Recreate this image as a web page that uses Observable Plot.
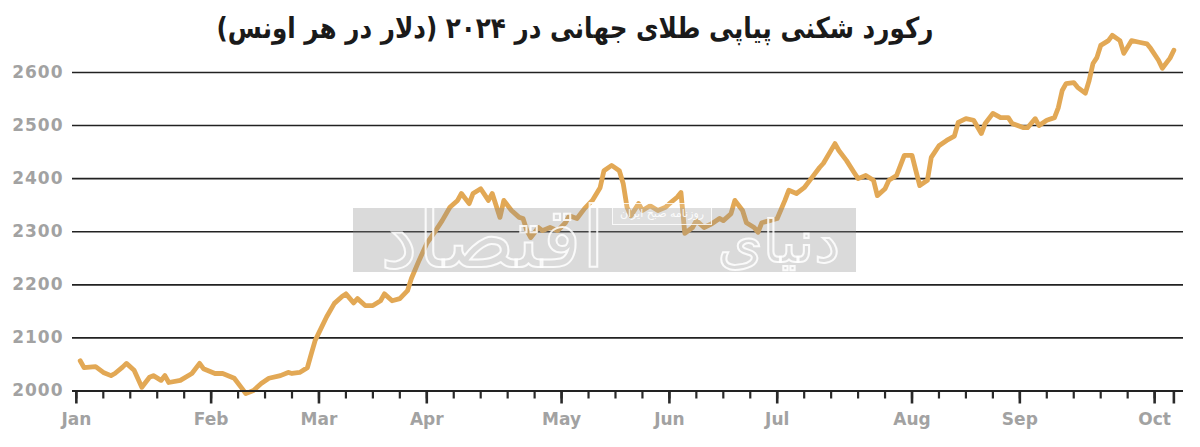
<!DOCTYPE html>
<html>
<head>
<meta charset="utf-8">
<script src="https://cdn.jsdelivr.net/npm/d3@7"></script>
<script src="https://cdn.jsdelivr.net/npm/@observablehq/plot@0.6"></script>
<style>
  html, body { margin: 0; padding: 0; background: #fff; }
  body { width: 1200px; height: 447px; overflow: hidden; position: relative; font-family: "DejaVu Sans", sans-serif; }
  #chart { position: absolute; left: 0; top: 0; }
  #title { position: absolute; left: 0; top: 9px; width: 1150px; text-align: center; direction: rtl;
           font-family: "DejaVu Sans", sans-serif; font-weight: bold; font-size: 29px; color: #1a1a1a; line-height: 38px;
           transform: scaleX(0.85); transform-origin: 575px 50%; }
  #wm { position: absolute; left: 353px; top: 208px; width: 503px; height: 64px; background: rgba(140,140,140,0.32); }
  .wmtext { position: absolute; direction: rtl; text-align: center; white-space: nowrap;
            font-family: "DejaVu Sans", sans-serif; color: transparent;
            -webkit-text-stroke: 2px rgba(255,255,255,0.85); }
  #wm1 { left: 385px; width: 220px; top: 178px; font-size: 84px; line-height: 120px; }
  #wm2 { left: 722px; width: 118px; top: 192px; font-size: 58px; line-height: 100px; }
  #wmsmall { position: absolute; left: 612px; top: 203px; width: 98px; height: 20px; border: 1.5px solid rgba(255,255,255,0.8);
             background: rgba(255,255,255,0.15); color: rgba(255,255,255,0.9); font-size: 11px; line-height: 20px; text-align: center; direction: rtl; }
  g[aria-label="y-axis tick label"] text { letter-spacing: 1px; }
</style>
</head>
<body>
<div id="chart"></div>
<div id="title">رکورد شکنی پیاپی طلای جهانی در ۲۰۲۴ (دلار در هر اونس)</div>
<div id="wm"></div>
<div class="wmtext" id="wm1">اقتصاد</div>
<div class="wmtext" id="wm2">دنیای</div>
<div id="wmsmall">روزنامه صبح ایران</div>
<script>
// ---- Data ----
const dates = [
  "2024-01-02","2024-01-03","2024-01-06","2024-01-08","2024-01-10","2024-01-11","2024-01-13","2024-01-14","2024-01-16","2024-01-18",
  "2024-01-20","2024-01-21","2024-01-23","2024-01-24","2024-01-25","2024-01-28","2024-01-31",
  "2024-02-02","2024-02-03","2024-02-06","2024-02-08","2024-02-11","2024-02-13","2024-02-14","2024-02-16","2024-02-18","2024-02-20",
  "2024-02-23","2024-02-25","2024-02-26","2024-02-28",
  "2024-03-01","2024-03-02","2024-03-03","2024-03-04","2024-03-06","2024-03-08","2024-03-10","2024-03-11","2024-03-13","2024-03-14",
  "2024-03-16","2024-03-18","2024-03-20","2024-03-21","2024-03-23","2024-03-25","2024-03-27","2024-03-28","2024-03-30",
  "2024-04-01","2024-04-03","2024-04-05","2024-04-07","2024-04-09","2024-04-10","2024-04-12","2024-04-13","2024-04-15","2024-04-17",
  "2024-04-18","2024-04-20","2024-04-21","2024-04-23","2024-04-25","2024-04-26","2024-04-27","2024-04-28","2024-04-30",
  "2024-05-01","2024-05-03","2024-05-05","2024-05-07","2024-05-08","2024-05-10","2024-05-12","2024-05-14","2024-05-16","2024-05-17",
  "2024-05-19","2024-05-21","2024-05-22","2024-05-23","2024-05-24","2024-05-26","2024-05-27","2024-05-29","2024-05-31",
  "2024-06-02","2024-06-03","2024-06-05","2024-06-06","2024-06-07","2024-06-09","2024-06-10","2024-06-12","2024-06-14","2024-06-16",
  "2024-06-17","2024-06-19","2024-06-20","2024-06-22","2024-06-23","2024-06-25","2024-06-26","2024-06-27","2024-06-29",
  "2024-07-01","2024-07-03","2024-07-04","2024-07-06","2024-07-08","2024-07-10","2024-07-12","2024-07-13","2024-07-16","2024-07-17",
  "2024-07-19","2024-07-21","2024-07-22","2024-07-24","2024-07-26","2024-07-27","2024-07-29","2024-07-30",
  "2024-08-01","2024-08-03","2024-08-05","2024-08-06","2024-08-07","2024-08-09","2024-08-10","2024-08-12","2024-08-14","2024-08-16",
  "2024-08-17","2024-08-19","2024-08-21","2024-08-23","2024-08-24","2024-08-26","2024-08-28","2024-08-30","2024-08-31",
  "2024-09-03","2024-09-04","2024-09-06","2024-09-07","2024-09-09","2024-09-11","2024-09-12","2024-09-13","2024-09-14","2024-09-16",
  "2024-09-17","2024-09-19","2024-09-20","2024-09-21","2024-09-22","2024-09-23","2024-09-25","2024-09-26","2024-09-28","2024-09-29",
  "2024-10-01","2024-10-03","2024-10-05","2024-10-06","2024-10-08","2024-10-09","2024-10-11","2024-10-12"
];
const prices = [
  2057,2044,2046,2035,2029,2033,2045,2052,2039,2007,
  2026,2029,2020,2029,2016,2020,2033,
  2052,2042,2033,2033,2024,2005,1995,2001,2014,2024,
  2029,2035,2033,2035,
  2044,2070,2095,2110,2140,2165,2178,2183,2166,2174,
  2161,2161,2170,2183,2170,2174,2189,2212,2246,
  2278,2299,2321,2346,2359,2372,2353,2372,2381,2359,
  2372,2327,2359,2340,2327,2325,2302,2289,2308,
  2302,2308,2302,2317,2330,2325,2344,2359,2383,2415,
  2425,2415,2391,2346,2330,2353,2340,2349,2340,
  2346,2353,2365,2374,2297,2308,2321,2308,2315,2325,
  2321,2334,2359,2340,2317,2308,2299,2317,2321,
  2325,2359,2378,2372,2383,2402,2421,2429,2466,2453,
  2434,2411,2400,2406,2397,2368,2381,2397,
  2406,2444,2444,2415,2387,2397,2440,2462,2472,2480,
  2506,2513,2510,2485,2504,2523,2515,2515,2504,
  2496,2496,2513,2500,2510,2515,2534,2566,2579,2581,
  2572,2561,2585,2617,2628,2651,2660,2670,2660,2636,
  2660,2657,2654,2645,2623,2608,2627,2642
];
const yTicks = [2000, 2100, 2200, 2300, 2400, 2500, 2600];
const monthLabels = ["Jan","Feb","Mar","Apr","May","Jun","Jul","Aug","Sep","Oct"];
const lastDate = "2024-10-12";

// ---- Build ----
const parse = d3.utcParse("%Y-%m-%d");
const data = dates.map((d, i) => ({date: parse(d), price: prices[i]}));
const weekTicks = d3.utcMonday.range(new Date(Date.UTC(2024, 0, 1)), new Date(Date.UTC(2024, 9, 13)));
const monthTicks = monthLabels.map((m, i) => d3.utcMonday.ceil(new Date(Date.UTC(2024, i, 1))));
const labelMap = new Map(monthTicks.map((d, i) => [+d, monthLabels[i]]));
const endTick = parse(lastDate);

const chart = Plot.plot({
  width: 1200,
  height: 447,
  marginLeft: 72,
  marginRight: 17,
  marginTop: 18.9,
  marginBottom: 56.5,
  style: {fontFamily: "DejaVu Sans, sans-serif", background: "transparent", overflow: "visible"},
  x: {type: "utc", domain: [new Date(Date.UTC(2023, 11, 31)), new Date(Date.UTC(2024, 9, 14, 12))]},
  y: {domain: [2000, 2700]},
  marks: [
    Plot.ruleY(yTicks.slice(1), {stroke: "#222", strokeWidth: 1.6}),
    Plot.axisY({ticks: yTicks, tickSize: 0, tickPadding: 9, tickFormat: d => String(d), fill: "#a2a2a2", fontSize: 17, fontWeight: "bold", label: null}),
    Plot.line(data, {x: "date", y: "price", stroke: "#e2a855", strokeWidth: 4.8, strokeLinejoin: "round", strokeLinecap: "round"}),
    Plot.axisX({ticks: weekTicks, tickSize: 8, tickFormat: () => "", stroke: "#2a2a2a", strokeWidth: 2.2, label: null}),
    Plot.axisX({ticks: [...monthTicks, endTick], tickSize: 13, tickPadding: 9, tickFormat: d => labelMap.get(+d) || "",
                stroke: "#2a2a2a", strokeWidth: 2.6, fill: "#a2a2a2", fontSize: 17, fontWeight: "bold", label: null}),
    Plot.ruleY([2000], {stroke: "#222", strokeWidth: 2.2})
  ]
});
document.getElementById("chart").appendChild(chart);
</script>
</body>
</html>
